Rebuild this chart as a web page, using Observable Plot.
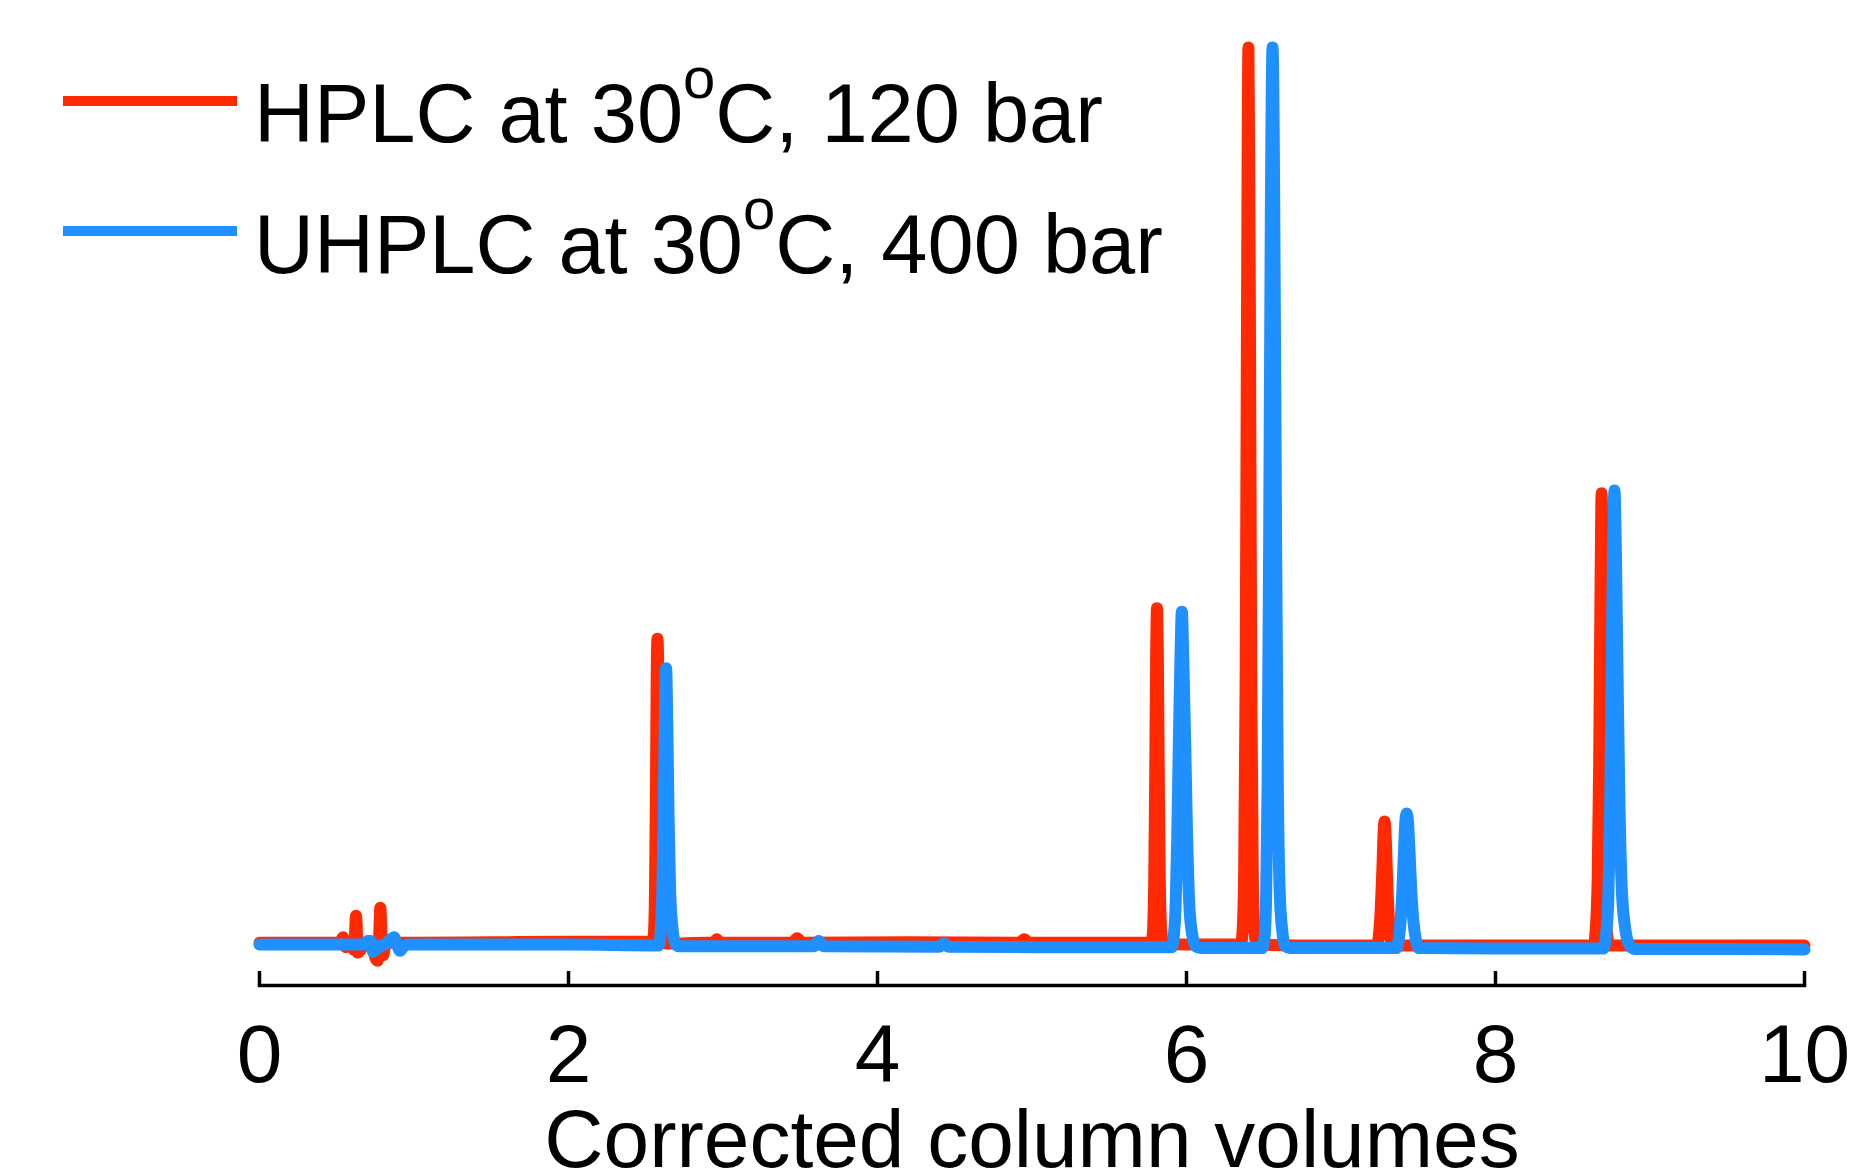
<!DOCTYPE html>
<html>
<head>
<meta charset="utf-8">
<script src="https://cdn.jsdelivr.net/npm/d3@7"></script>
<script src="https://cdn.jsdelivr.net/npm/@observablehq/plot@0.6"></script>
<style>
  html, body { margin: 0; padding: 0; background: #fff; }
  #wrap { position: relative; width: 1855px; height: 1176px; }
  #legend { position: absolute; left: 0; top: 0; }
</style>
</head>
<body>
<div id="wrap"><div id="chart"></div><div id="legend"></div></div>
<script>
// Series names
const seriesNames = ["HPLC at 30", "UHPLC at 30"];
const seriesTails = ["C, 120 bar", "C, 400 bar"];
const xTicks = [0, 2, 4, 6, 8, 10];
const xLabel = "Corrected column volumes";

// HPLC trace (corrected column volumes, relative absorbance)
const hplcPoints = [
  [0, 0.2], [0.5, 0.2], [0.52, 0.2], [0.54, 0.8], [0.56, -0.3], [0.60, 0.1],
  [0.612, -0.6], [0.625, 3.2], [0.637, -0.9], [0.655, -0.6], [0.68, 0.1],
  [0.73, 0.1], [0.75, -1.5], [0.765, -1.8], [0.775, 1], [0.782, 4.1], [0.79, 1],
  [0.80, -1.2], [0.815, 0], [0.85, 0.2], [1.0, 0.2], [1.5, 0.25], [2.0, 0.3], [2.54, 0.3],
  [2.545, 0.3], [2.552, 1], [2.560, 6], [2.566, 17], [2.571, 30], [2.576, 34.1],
  [2.581, 30], [2.586, 17], [2.593, 6], [2.602, 1.5], [2.615, 0.2], [2.64, 0.1],
  [2.9, 0.2], [2.94, 0.2], [2.96, 0.6], [2.98, 0.2], [3.45, 0.2], [3.48, 0.7], [3.51, 0.2],
  [4.2, 0.25], [4.92, 0.2], [4.95, 0.6], [4.98, 0.2], [5.5, 0.2], [5.76, 0.2],
  [5.772, 0.2], [5.782, 1.2], [5.791, 7], [5.798, 20], [5.804, 33], [5.809, 37.5],
  [5.814, 33], [5.820, 20], [5.827, 7], [5.837, 1.5], [5.85, 0.1],
  [6.0, 0], [6.35, 0],
  [6.352, 0], [6.363, 1.5], [6.373, 8], [6.383, 30], [6.392, 72], [6.401, 100],
  [6.410, 72], [6.419, 30], [6.429, 8], [6.440, 1.5], [6.455, 0],
  [6.7, -0.1], [7.0, -0.1], [7.23, -0.1],
  [7.232, -0.1], [7.244, 0.8], [7.256, 3.5], [7.268, 8.5], [7.277, 12.9], [7.282, 13.7],
  [7.287, 12.9], [7.296, 8.5], [7.308, 3.5], [7.320, 0.8], [7.335, -0.1],
  [7.6, -0.1], [8.0, -0.1], [8.63, -0.1],
  [8.635, -0.1], [8.648, 1.5], [8.661, 7], [8.671, 20], [8.680, 40], [8.687, 50.3],
  [8.694, 40], [8.702, 20], [8.711, 7], [8.721, 1.5], [8.735, -0.1],
  [9.0, -0.1], [9.5, -0.1], [10, -0.1]
];

// UHPLC trace
const uhplcPoints = [
  [0, 0], [0.5, 0], [0.68, 0], [0.70, 0.4], [0.72, 0.4], [0.735, -0.8], [0.75, -0.6],
  [0.78, -0.2], [0.82, 0.1], [0.85, 0.6], [0.87, 0.8], [0.89, 0], [0.91, -0.7],
  [0.93, -0.3], [0.96, 0], [1.5, 0], [2.0, 0], [2.58, -0.1],
  [2.585, -0.1], [2.595, 1], [2.606, 5], [2.615, 13], [2.623, 24], [2.632, 30.8],
  [2.640, 24], [2.648, 14], [2.658, 6], [2.672, 2], [2.69, 0.2], [2.71, -0.2],
  [3.0, -0.2], [3.59, -0.2], [3.62, 0.4], [3.65, -0.2], [4.40, -0.25], [4.43, 0.1],
  [4.46, -0.25], [5.0, -0.3], [5.9, -0.3],
  [5.905, -0.3], [5.918, 1], [5.930, 4.5], [5.940, 12], [5.950, 22], [5.961, 32],
  [5.970, 37.1], [5.979, 32], [5.992, 22], [6.004, 12], [6.018, 4.5], [6.036, 1.2],
  [6.06, -0.2], [6.09, -0.4],
  [6.49, -0.4], [6.505, 0.8], [6.515, 5], [6.525, 18], [6.535, 45], [6.546, 82],
  [6.557, 100], [6.568, 82], [6.580, 45], [6.591, 18], [6.603, 6], [6.620, 1.5],
  [6.64, -0.2], [6.67, -0.4],
  [7.0, -0.4], [7.355, -0.4],
  [7.360, -0.4], [7.373, 0.5], [7.385, 2.5], [7.397, 6], [7.408, 10.5], [7.417, 13.8],
  [7.425, 14.6], [7.433, 13.8], [7.443, 10.5], [7.455, 6], [7.469, 2.5], [7.485, 0.5],
  [7.505, -0.4],
  [8.0, -0.45], [8.69, -0.45],
  [8.70, -0.45], [8.715, 1], [8.730, 5], [8.742, 15], [8.752, 30], [8.761, 44],
  [8.770, 50.6], [8.779, 44], [8.790, 30], [8.803, 15], [8.818, 6], [8.838, 2],
  [8.865, 0], [8.90, -0.5],
  [9.5, -0.5], [10, -0.55]
];

const colors = ["#ff2a00", "#1e90ff"];
const toRows = (pts) => pts.map(([x, y]) => ({x, y}));

const chart = Plot.plot({
  width: 1855,
  height: 1176,
  marginLeft: 259,
  marginRight: 51,
  marginTop: 47,
  marginBottom: 191,
  style: {fontFamily: "'Liberation Sans', Arial, sans-serif", fontSize: "82px", color: "#000", background: "#fff", overflow: "visible"},
  x: {domain: [0, 10]},
  y: {domain: [-4.57, 100], axis: null},
  marks: [
    Plot.frame({anchor: "bottom", strokeWidth: 3.5, stroke: "#000"}),
    Plot.axisX(xTicks, {tickSize: 14, dy: -14, strokeWidth: 3.5, tickFormat: () => "", label: null}),
    Plot.axisX(xTicks, {tickSize: 0, tickPadding: 38, fontSize: 82, tickFormat: (d) => String(d), label: xLabel, labelAnchor: "center", labelArrow: "none", labelOffset: 181}),
    Plot.line(toRows(hplcPoints), {x: "x", y: "y", stroke: colors[0], strokeWidth: 12, curve: "monotone-x", strokeLinecap: "round", strokeLinejoin: "round"}),
    Plot.line(toRows(uhplcPoints), {x: "x", y: "y", stroke: colors[1], strokeWidth: 12, curve: "monotone-x", strokeLinecap: "round", strokeLinejoin: "round"})
  ]
});
document.getElementById("chart").appendChild(chart);

// Legend (overlaid at top-left)
const lg = d3.select("#legend").append("svg").attr("width", 1200).attr("height", 300)
  .style("font-family", "'Liberation Sans', Arial, sans-serif");
seriesNames.forEach((name, i) => {
  const yLine = 101 + i * 130;
  const yBase = 142 + i * 131;
  lg.append("line").attr("x1", 63).attr("x2", 237).attr("y1", yLine).attr("y2", yLine)
    .attr("stroke", colors[i]).attr("stroke-width", 10);
  const t = lg.append("text").attr("x", 254).attr("y", yBase).attr("font-size", 83).attr("fill", "#000");
  t.append("tspan").text(name);
  t.append("tspan").attr("font-size", 58).attr("dy", -44).text("o");
  t.append("tspan").attr("font-size", 83).attr("dy", 44).text(seriesTails[i]);
});
</script>
</body>
</html>
